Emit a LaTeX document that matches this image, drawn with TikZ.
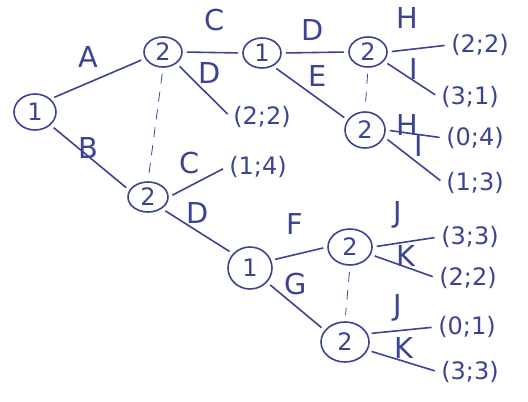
\documentclass[tikz,border=0pt]{standalone}
\usepackage{fontspec}
\setmainfont{DejaVu Sans}
\usetikzlibrary{shapes.geometric}
\definecolor{ink}{HTML}{3B4394}

\begin{document}
\begin{tikzpicture}[x=0.5pt, y=-0.5pt,
  ink, line width=0.8pt,
  dec/.style={ellipse, draw=ink, inner sep=0pt, minimum width=19pt, minimum height=15pt, font=\large},
  leaf/.style={inner sep=1pt, font=\large},
  mv/.style={font=\Large, inner sep=0pt},
  br/.style={shorten <=2pt, shorten >=2pt},
  info/.style={dashed, thin, dash pattern=on 5pt off 4pt},
]
\useasboundingbox (0,0) rectangle (528,401);

% ---- decision nodes ----
\node[dec, minimum width=21pt, minimum height=18pt] (r) at (35,112) {1};
\node[dec] (a) at (163,52) {2};
\node[dec, minimum width=20pt] (b) at (148,197) {2};
\node[dec] (ac) at (262,53) {1};
\node[dec] (acd) at (368,52) {2};
\node[dec, minimum width=20pt, minimum height=18pt] (ace) at (365,130) {2};
\node[dec, minimum width=22pt, minimum height=21pt] (bd) at (250,268) {1};
\node[dec, minimum width=22pt, minimum height=18pt] (bdf) at (350,247) {2};
\node[dec, minimum width=24pt, minimum height=20pt] (bdg) at (345,342) {2};

% ---- payoffs ----
\node[leaf] (p1) at (262,117) {(2;2)};
\node[leaf] (p2) at (480,45) {(2;2)};
\node[leaf] (p3) at (470,97) {(3;1)};
\node[leaf] (p4) at (475,138) {(0;4)};
\node[leaf] (p5) at (475,183) {(1;3)};
\node[leaf] (p6) at (258,167) {(1;4)};
\node[leaf] (p7) at (470,237) {(3;3)};
\node[leaf] (p8) at (468,278) {(2;2)};
\node[leaf] (p9) at (467,327) {(0;1)};
\node[leaf] (p10) at (470,372) {(3;3)};

% ---- branches ----
\draw[br] (r.40) -- (a.200);
\draw[br] (r.-40) -- (b.160);
\draw[br] (a.east) -- (ac.west);
\draw[br] (a.-40) -- (p1.west);
\draw[br] (ac.east) -- (acd.west);
\draw[br] (ac.-50) -- (ace.150);
\draw[br] (acd.east) -- (p2.west);
\draw[br] (acd.-30) -- (p3.west);
\draw[br] (ace.east) -- (p4.west);
\draw[br] (ace.-20) -- (p5.west);
\draw[br] (b.east) -- (p6.west);
\draw[br] (b.-40) -- (bd.140);
\draw[br] (bd.20) -- (bdf.west);
\draw[br] (bd.-40) -- (bdg.150);
\draw[br] (bdf.east) -- (p7.west);
\draw[br] (bdf.-20) -- (p8.west);
\draw[br] (bdg.20) -- (p9.west);
\draw[br] (bdg.-20) -- (p10.west);

% ---- information sets ----
\draw[info, shorten <=3pt, shorten >=3pt] (a.south) -- (b.north);
\draw[info, shorten <=3pt, shorten >=3pt] (acd.south) -- (ace.north);
\draw[info, shorten <=3pt, shorten >=3pt] (bdf.south) -- (bdg.north);

% ---- moves ----
\node[mv] (lA) at (88,57) {A};
\node[mv] (lB) at (88,148) {B};
\node[mv] (lC1) at (215,20) {C};
\node[mv] (lD1) at (210,73) {D};
\node[mv] (lD2) at (313,30) {D};
\node[mv] (lE) at (318,76) {E};
\node[mv] (lH1) at (407,18) {H};
\node[mv] (lI1) at (414,69) {I};
\node[mv] (lH2) at (407,125) {H};
\node[mv] (lI2) at (419,146) {I};
\node[mv] (lC2) at (190,163) {C};
\node[mv] (lD3) at (198,213) {D};
\node[mv] (lF) at (295,224) {F};
\node[mv] (lG) at (296,284) {G};
\node[mv] (lJ1) at (398,215) {J};
\node[mv] (lK1) at (406,256) {K};
\node[mv] (lJ2) at (398,308) {J};
\node[mv] (lK2) at (404,348) {K};
\end{tikzpicture}
\end{document}
